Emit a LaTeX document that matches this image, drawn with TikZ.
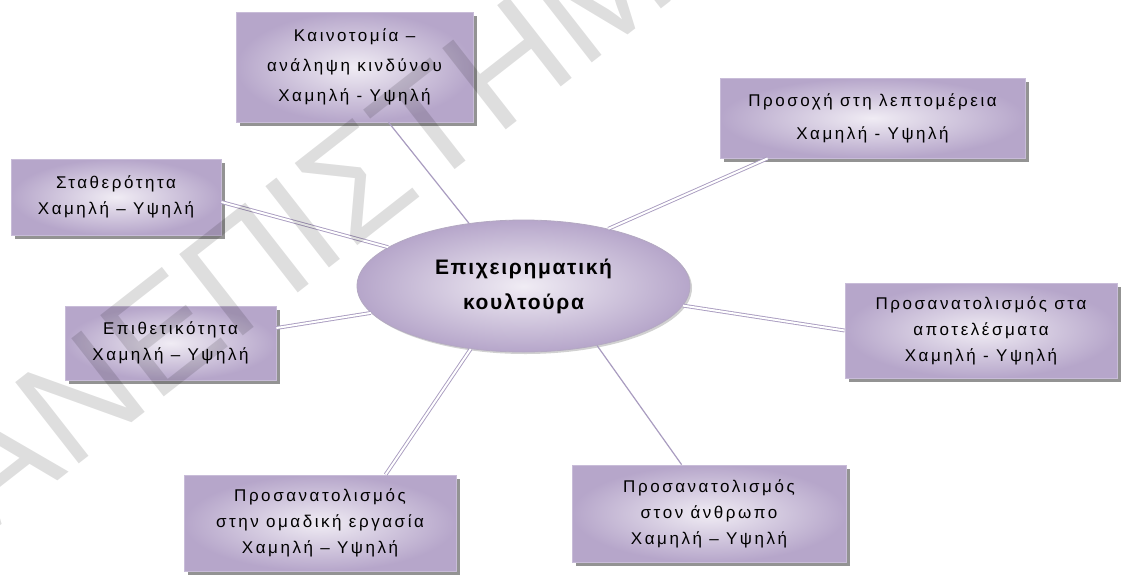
\documentclass[tikz,border=0pt]{standalone}
\usepackage{fontspec}
\setmainfont{Liberation Sans}
\newfontfamily\boxfont{Liberation Sans}[LetterSpace=15]
\newfontfamily\corefont{Liberation Sans}[LetterSpace=8]
\newfontfamily\markfont{Liberation Sans}
\usetikzlibrary{shapes.geometric,shadows}

\definecolor{lavOuter}{HTML}{B6A6CA}
\definecolor{lavInner}{HTML}{F0ECF4}
\definecolor{lavEdge}{HTML}{C8BCD8}
\definecolor{lavLine}{HTML}{A99CC0}
\definecolor{boxShadow}{HTML}{939393}

\tikzset{
  topicbox/.style={rectangle, inner sep=0pt, align=center,
    inner color=lavInner, outer color=lavOuter,
    draw=lavEdge, line width=0.8pt,
    font=\boxfont\fontsize{17}{26}\selectfont,
    drop shadow={shadow xshift=4pt, shadow yshift=-4pt, fill=boxShadow, opacity=1}},
  core/.style={ellipse, inner sep=0pt, align=center,
    inner color=lavInner, outer color=lavOuter,
    draw=lavEdge!90!black, line width=0.8pt,
    minimum width=333pt, minimum height=132pt,
    font=\corefont\bfseries\fontsize{21}{35}\selectfont,
    drop shadow={shadow xshift=2pt, shadow yshift=-2pt, fill=black, opacity=0.18}},
  plainlink/.style={draw=lavLine, line width=1.2pt},
  doublelink/.style={draw=lavLine, line width=0.9pt, double=white, double distance=2pt},
}

\begin{document}
\begin{tikzpicture}[x=1pt,y=-1pt]
  \useasboundingbox (0,0) rectangle (1121,576);
  \fill[white] (0,0) rectangle (1121,576);

  % central topic
  \node[core] (ell) at (523.5,286) {Επιχειρηματική\\κουλτούρα};

  % surrounding dimensions
  \node[topicbox, minimum width=237pt, minimum height=110pt] (b1) at (354.5,67)
    {Καινοτομία –\\[4pt]ανάληψη κινδύνου\\[4pt]Χαμηλή - Υψηλή};
  \node[topicbox, minimum width=305pt, minimum height=80pt] (b2) at (872.5,118)
    {Προσοχή στη λεπτομέρεια\\[7pt]Χαμηλή - Υψηλή};
  \node[topicbox, minimum width=210pt, minimum height=76pt] (b3) at (116,197)
    {Σταθερότητα\\Χαμηλή – Υψηλή};
  \node[topicbox, minimum width=211pt, minimum height=74pt] (b4) at (170.5,343)
    {Επιθετικότητα\\Χαμηλή – Υψηλή};
  \node[topicbox, minimum width=272pt, minimum height=95pt] (b5) at (981,330.5)
    {Προσανατολισμός στα\\αποτελέσματα\\Χαμηλή - Υψηλή};
  \node[topicbox, minimum width=272pt, minimum height=96pt] (b6) at (320,523)
    {Προσανατολισμός\\στην ομαδική εργασία\\Χαμηλή – Υψηλή};
  \node[topicbox, minimum width=274pt, minimum height=97pt] (b7) at (709,513.5)
    {Προσανατολισμός\\στον άνθρωπο\\Χαμηλή – Υψηλή};

  % connectors from each box to the central ellipse
  \draw[plainlink]  ([xshift=153pt]b1.south west) -- (ell.131);
  \draw[doublelink] ([xshift=48pt]b2.south west) -- (ell.34);
  \draw[doublelink] ([yshift=-5pt]b3.east) -- (ell.164);
  \draw[doublelink] ([yshift=15pt]b4.east) -- (ell.190);
  \draw[doublelink] (b5.west) -- (ell.-7);
  \draw[doublelink] ([xshift=202pt]b6.north west) -- (ell.230);
  \draw[plainlink]  ([xshift=110pt]b7.north west) -- (ell.-39);

  % faint diagonal watermark
  \node[rotate=38, anchor=base west, inner sep=0pt,
        font=\markfont\fontsize{150}{150}\selectfont,
        text=black, text opacity=0.13] (mark) at (-95,600) {ΠΑΝΕΠΙΣΤΗΜΙΟ};
\end{tikzpicture}
\end{document}
